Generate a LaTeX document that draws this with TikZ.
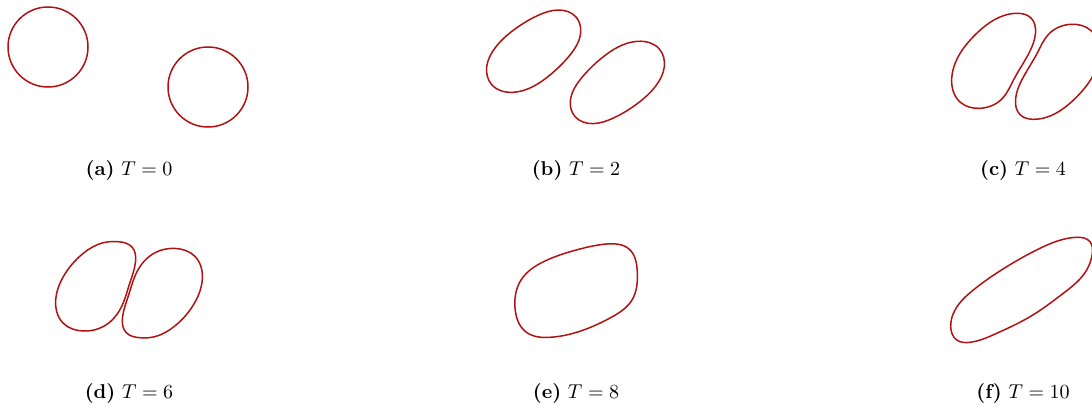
\documentclass[tikz,border=0pt]{standalone}
\usepackage{amsmath,amssymb}
\usepackage{xcolor}
\definecolor{curvered}{RGB}{176, 18, 18}
\usepackage{tikz}
\usetikzlibrary{positioning, hobby}

\tikzset{
    blob/.style={draw=curvered, line width=0.75pt, line join=round},
    subcap/.style={anchor=base, inner sep=0pt, font=\normalsize}
}

\begin{document}
\begin{tikzpicture}[x=0.5pt, y=-0.5pt]
    \useasboundingbox (0,0) rectangle (1092,407);

    % (a) T = 0
    \coordinate (A1) at (48,47);
    \coordinate (A2) at (208,87);
    \draw[blob] (A1) circle[radius=40];
    \draw[blob] (A2) circle[radius=40];
    \node[subcap] (capA) at (129,175) {\textbf{(a)} $T = 0$};

    % (b) T = 2, second drop is the first turned half round
    \coordinate (MB) at (575.5,66.8);
    \foreach \ang in {0,180}
        \draw[blob, rotate around={\ang:(MB)}] plot[closed hobby] coordinates {(558.3,10) (576,17) (580.7,32) (570,55) (550,75) (513.3,92.3) (492,85) (486.7,66.7) (495,48) (515,29) (536.7,16)};
    \node[subcap] (capB) at (576,175) {\textbf{(b)} $T = 2$};

    % (c) T = 4
    \coordinate (MC) at (1025.5,66.3);
    \foreach \ang in {0,180}
        \draw[blob, rotate around={\ang:(MC)}] plot[closed hobby] coordinates {(1018.3,13.3) (1031,18) (1035.5,33) (1028.5,54) (1013.5,80) (1002.5,98.3) (980,108.3) (960,102) (951.7,78) (958,57) (975,35) (1000,17)};
    \node[subcap] (capC) at (1023,175) {\textbf{(c)} $T = 4$};

    % (d) T = 6
    \coordinate (MD) at (129,289.7);
    \foreach \ang in {0,180}
        \draw[blob, rotate around={\ang:(MD)}] plot[closed hobby] coordinates {(118.3,241.7) (132,247) (135.5,262) (129.5,284) (120.7,308.3) (103,326.7) (83.3,331) (63,323) (55.7,300) (63.3,276.7) (83.3,253.3) (103.3,242.7)};
    \node[subcap] (capD) at (129,398) {\textbf{(d)} $T = 6$};

    % (e) T = 8
    \draw[blob] plot[closed hobby] coordinates {(606.7,244) (629,249) (637.3,272) (632,300) (610,318) (550,337.3) (526,332) (515,308) (521,280) (545,261) (578,249.5)};
    \node[subcap] (capE) at (576,398) {\textbf{(e)} $T = 8$};

    % (f) T = 10
    \draw[blob] plot[closed hobby] coordinates {(1076.7,237.3) (1090,241.7) (1092.3,253.3) (1086.7,270) (1063.3,293.3) (1030,316.7) (996.7,333.3) (970,342.3) (956.7,340) (950.7,326.7) (955,310) (973.3,290) (1006.7,266.7) (1040,248.3) (1063.3,239.3)};
    \node[subcap] (capF) at (1023,398) {\textbf{(f)} $T = 10$};
\end{tikzpicture}
\end{document}
